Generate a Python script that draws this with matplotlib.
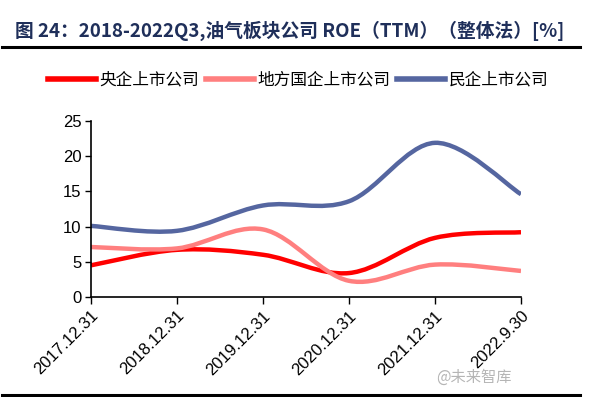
import matplotlib
matplotlib.use("Agg")
import matplotlib.pyplot as plt
from matplotlib.path import Path
from matplotlib.patches import PathPatch
from matplotlib.lines import Line2D
import numpy as np

plt.rcParams['font.family'] = ['Liberation Sans', 'Noto Sans CJK SC', 'DejaVu Sans']

categories = ["2017.12.31", "2018.12.31", "2019.12.31", "2020.12.31", "2021.12.31", "2022.9.30"]
central_soe = [4.5, 6.7, 6.0, 3.4, 8.4, 9.2]
local_soe = [7.1, 6.9, 9.6, 2.3, 4.6, 3.7]
private = [10.1, 9.4, 13.0, 13.6, 21.9, 14.6]
series_names = ["央企上市公司", "地方国企上市公司", "民企上市公司"]
colors = ["#FF0000", "#FF7F7F", "#5566A0"]

fig = plt.figure(figsize=(5.9, 3.97), dpi=100)
ax = fig.add_axes([91/590, 1-297/397, 430/590, 176/397])

def smooth_path(xs, ys):
    pts = np.column_stack([xs, ys]).astype(float)
    n = len(pts)
    verts = [pts[0]]
    codes = [Path.MOVETO]
    for i in range(n-1):
        p0 = pts[i-1] if i > 0 else pts[i]
        p1 = pts[i]
        p2 = pts[i+1]
        p3 = pts[i+2] if i+2 < n else pts[i+1]
        c1 = p1 + (p2 - p0) / 6.0
        c2 = p2 - (p3 - p1) / 6.0
        verts += [c1, c2, p2]
        codes += [Path.CURVE4]*3
    return Path(verts, codes)

x = np.arange(len(categories))
for vals, c in zip([central_soe, local_soe, private], colors):
    patch = PathPatch(smooth_path(x, vals), facecolor='none', edgecolor=c,
                      lw=3.2, capstyle='butt', joinstyle='round')
    ax.add_patch(patch)

ax.set_xlim(0, len(categories)-1)
ax.set_ylim(0, 25)
ax.set_yticks([0, 5, 10, 15, 20, 25])
ax.set_xticks(x)
ax.set_xticklabels(categories, rotation=45, ha='right', rotation_mode='anchor', fontsize=12)
ax.tick_params(axis='y', labelsize=12, length=4, width=1, direction='out', pad=3)
ax.tick_params(axis='x', length=5, width=1, direction='out', pad=3)
for s in ['top', 'right']:
    ax.spines[s].set_visible(False)
for s in ['left', 'bottom']:
    ax.spines[s].set_linewidth(1.2)
    ax.spines[s].set_color('black')

handles = [Line2D([0], [0], color=c, lw=4) for c in colors]
fig.legend(handles, series_names, loc='center', bbox_to_anchor=(0.505, 1-80/397),
           ncol=3, frameon=False, handlelength=2.9, handletextpad=0.2,
           columnspacing=0.4, prop={'family': ['Noto Sans CJK SC'], 'size': 12})

fig.text(0.025, 1-31/397, "图 24：2018-2022Q3,油气板块公司 ROE（TTM）（整体法）[%]",
         fontsize=13.5, fontweight='bold', color='#1F2F5A', va='center', ha='left',
         family=['Noto Sans CJK SC'])
fig.add_artist(Line2D([0.003, 0.983], [1-47/397, 1-47/397], color='black', lw=2.2,
                      transform=fig.transFigure))
fig.add_artist(Line2D([0.003, 0.983], [1-395/397, 1-395/397], color='black', lw=2.2,
                      transform=fig.transFigure))
fig.text(512/590, 1-377/397, "@未来智库", fontsize=11, color='#B5B5B5', ha='right', va='center',
         family=['Noto Sans CJK SC'])

fig.savefig("out.png", dpi=100, facecolor='white')
